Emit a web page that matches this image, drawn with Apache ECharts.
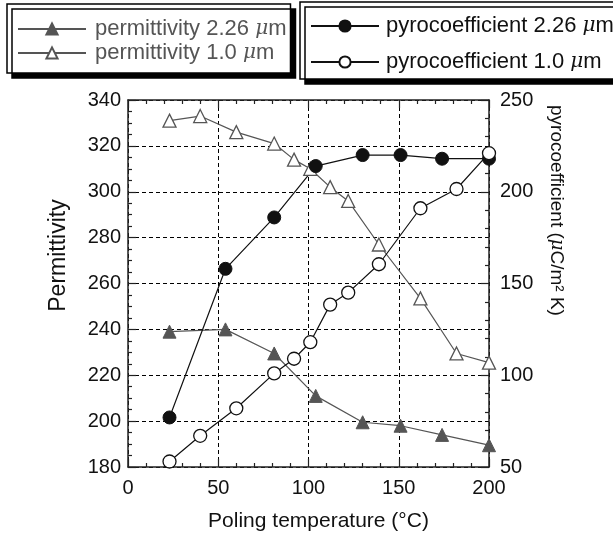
<!DOCTYPE html>
<html>
<head>
<meta charset="utf-8">
<script src="https://cdn.jsdelivr.net/npm/echarts@6/dist/echarts.min.js"></script>
<style>
html, body { margin: 0; padding: 0; background: #fff; }
#chart { width: 613px; height: 539px; }
</style>
</head>
<body>
<div id="chart"></div>
<script>
// poling temperatures (°C) of the two sample sets
const tempA = [23, 54, 81, 104, 130, 151, 174, 200]
const tempB = [23, 40, 60, 81, 92, 101, 112, 122, 139, 162, 182, 200]

// permittivity (left axis)
const perm226 = [239, 240, 229.5, 211, 199.5, 198, 194, 189.5]
const perm10 = [331, 333, 326, 321, 314, 310, 302, 296, 277, 253.5, 229.5, 225.5]

// pyrocoefficient µC/m²K (right axis)
const pyro226 = [77, 158, 186, 214, 220, 220, 218, 218]
const pyro10 = [53, 67, 82, 101, 109, 118, 138.5, 145, 160.5, 191, 201.5, 221]

const names = ['permittivity 2.26 μm', 'permittivity 1.0 μm', 'pyrocoefficient 2.26 μm', 'pyrocoefficient 1.0 μm']

const FONT = '"Liberation Sans", Arial, Helvetica, sans-serif'

const zip = (xs, ys) => xs.map((x, i) => [x, ys[i]])

// "μ" drawn in italic like the original
const muLabel = name => '{n|' + name.replace(' μm', ' ') + '}{i|μ}{n|m}'
const legendRich = {
  n: { fontFamily: FONT, fontSize: 22, lineHeight: 22 },
  i: { fontFamily: 'DejaVu Serif, serif', fontStyle: 'italic', fontSize: 20, lineHeight: 22 }
}
const nameRich = {
  n: { fontFamily: FONT, fontSize: 19, color: '#111' },
  i: { fontFamily: 'DejaVu Serif, serif', fontStyle: 'italic', fontSize: 18, color: '#111' }
}

const chart = echarts.init(document.getElementById('chart'))

const legendBase = {
  orient: 'vertical',
  selectedMode: false,
  itemWidth: 68,
  itemHeight: 14,
  backgroundColor: '#fff',
  borderColor: '#000',
  borderWidth: 1.5,
  shadowColor: '#000',
  shadowBlur: 0,
  shadowOffsetX: 5,
  shadowOffsetY: 5,
  formatter: muLabel
}

const tickAxis = {
  axisLine: { show: true, onZero: false, lineStyle: { color: '#222', width: 1.5 } },
  axisTick: { show: true, inside: true, length: 8, lineStyle: { color: '#222', width: 1.2 } },
  minorTick: { show: true, length: 4, lineStyle: { color: '#222', width: 1.2 } },
  axisLabel: { color: '#111', fontFamily: FONT, fontSize: 20 }
}

const option = {
  animation: false,
  backgroundColor: '#fff',
  legend: [
    Object.assign({}, legendBase, {
      data: [names[0], names[1]],
      left: 7,
      top: 4,
      padding: [14, 4, 9, 10],
      itemGap: 2,
      textStyle: { color: '#555', lineHeight: 22, padding: [0, 0, 0, 4], rich: legendRich }
    }),
    Object.assign({}, legendBase, {
      data: [names[2], names[3]],
      left: 300,
      top: 2,
      padding: [13, 20, 6, 10],
      itemGap: 14,
      textStyle: { color: '#111', lineHeight: 22, padding: [0, 0, 0, 2], rich: legendRich }
    })
  ],
  grid: { left: 128, right: 124, top: 100, bottom: 72 },
  xAxis: [
    Object.assign({}, tickAxis, {
      type: 'value',
      min: 0,
      max: 200,
      interval: 50,
      minorTick: Object.assign({}, tickAxis.minorTick, { splitNumber: 5 }),
      axisLabel: Object.assign({}, tickAxis.axisLabel, { margin: 11 }),
      splitLine: { show: true, lineStyle: { color: '#000', type: [4, 3], width: 1 } },
      name: 'Poling temperature (°C)',
      nameLocation: 'middle',
      nameGap: 44,
      nameTextStyle: { color: '#111', fontFamily: FONT, fontSize: 21, padding: [0, 0, 0, 20] }
    }),
    Object.assign({}, tickAxis, {
      type: 'value',
      position: 'top',
      min: 0,
      max: 200,
      interval: 50,
      minorTick: Object.assign({}, tickAxis.minorTick, { splitNumber: 5 }),
      axisLabel: { show: false },
      splitLine: { show: false }
    })
  ],
  yAxis: [
    Object.assign({}, tickAxis, {
      type: 'value',
      position: 'left',
      min: 180,
      max: 340,
      interval: 20,
      minorTick: Object.assign({}, tickAxis.minorTick, { splitNumber: 4 }),
      axisLabel: Object.assign({}, tickAxis.axisLabel, { margin: 7 }),
      splitLine: { show: true, lineStyle: { color: '#000', type: [4, 3], width: 1 } },
      name: 'Permittivity',
      nameLocation: 'middle',
      nameGap: 58,
      nameTextStyle: { color: '#111', fontFamily: FONT, fontSize: 23, padding: [0, 0, 0, 56] }
    }),
    Object.assign({}, tickAxis, {
      type: 'value',
      position: 'right',
      min: 50,
      max: 250,
      interval: 50,
      minorTick: Object.assign({}, tickAxis.minorTick, { splitNumber: 5 }),
      axisLabel: Object.assign({}, tickAxis.axisLabel, { margin: 11 }),
      splitLine: { show: false },
      name: '{n|pyrocoefficient (}{i|μ}{n|C/m² K)}',
      nameLocation: 'middle',
      nameRotate: -90,
      nameGap: 58,
      nameTextStyle: { color: '#111', padding: [0, 146, 0, 0], rich: nameRich }
    })
  ],
  series: [
    {
      name: names[0],
      type: 'line',
      yAxisIndex: 0,
      data: zip(tempA, perm226),
      symbol: 'triangle',
      symbolSize: 13,
      itemStyle: { color: '#555', borderColor: '#555', borderWidth: 1 },
      lineStyle: { color: '#555', width: 1.2 }
    },
    {
      name: names[1],
      type: 'line',
      yAxisIndex: 0,
      data: zip(tempB, perm10),
      symbol: 'triangle',
      symbolSize: 13,
      itemStyle: { color: '#fff', borderColor: '#555', borderWidth: 1.3 },
      lineStyle: { color: '#555', width: 1.2 }
    },
    {
      name: names[2],
      type: 'line',
      yAxisIndex: 1,
      data: zip(tempA, pyro226),
      symbol: 'circle',
      symbolSize: 13,
      itemStyle: { color: '#111', borderColor: '#111', borderWidth: 1 },
      lineStyle: { color: '#111', width: 1.2 }
    },
    {
      name: names[3],
      type: 'line',
      yAxisIndex: 1,
      data: zip(tempB, pyro10),
      symbol: 'circle',
      symbolSize: 13,
      itemStyle: { color: '#fff', borderColor: '#111', borderWidth: 1.3 },
      lineStyle: { color: '#111', width: 1.2 }
    }
  ]
}

chart.setOption(option)
</script>
</body>
</html>
